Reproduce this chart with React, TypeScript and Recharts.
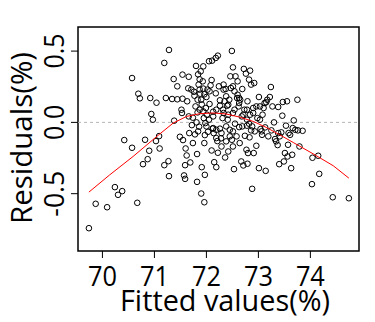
import React from 'react';
import {
  ScatterChart,
  Scatter,
  XAxis,
  YAxis,
  ReferenceLine,
  ReferenceArea,
} from 'recharts';

// fitted values (x) and residuals (y)
const fitted = [
  69.74, 69.87, 70.09, 70.24, 70.30, 70.38, 70.42, 70.57, 70.57, 70.67, 70.69, 70.72, 70.78, 70.82, 70.87,
  70.90, 70.92, 70.94, 70.97, 71.04, 71.03, 71.09, 71.10, 71.19, 71.19, 71.22, 71.27, 71.28, 71.28, 71.34,
  71.38, 71.37, 71.44, 71.44, 71.49, 71.52, 71.53, 71.54, 71.54, 71.55, 71.57, 71.59, 71.59, 71.60, 71.62,
  71.63, 71.65, 71.66, 71.66, 71.67, 71.69, 71.71, 71.72, 71.74, 71.74, 71.76, 71.78, 71.79, 71.80, 71.81,
  71.82, 71.82, 71.83, 71.83, 71.84, 71.85, 71.86, 71.87, 71.88, 71.89, 71.90, 71.90, 71.91, 71.91, 71.93,
  71.94, 71.94, 71.95, 71.96, 71.96, 71.97, 71.97, 71.98, 71.99, 72.00, 72.01, 72.02, 72.03, 72.05, 72.06,
  72.08, 72.10, 72.10, 72.11, 72.12, 72.13, 72.14, 72.15, 72.18, 72.18, 72.19, 72.21, 72.22, 72.22, 72.24,
  72.26, 72.26, 72.28, 72.29, 72.31, 72.32, 72.33, 72.35, 72.36, 72.37, 72.38, 72.38, 72.40, 72.41, 72.42,
  72.44, 72.45, 72.46, 72.47, 72.49, 72.49, 72.51, 72.51, 72.51, 72.53, 72.54, 72.55, 72.56, 72.58, 72.60,
  72.60, 72.62, 72.63, 72.64, 72.65, 72.67, 72.68, 72.69, 72.71, 72.72, 72.73, 72.74, 72.76, 72.77, 72.78,
  72.79, 72.79, 72.80, 72.82, 72.83, 72.84, 72.84, 72.86, 72.88, 72.88, 72.90, 72.91, 72.92, 72.93, 72.96,
  72.98, 73.01, 73.01, 73.03, 73.04, 73.07, 73.08, 73.10, 73.12, 73.13, 73.14, 73.17, 73.19, 73.22, 73.24,
  73.25, 73.27, 73.30, 73.32, 73.34, 73.37, 73.38, 73.40, 73.41, 73.44, 73.46, 73.47, 73.49, 73.51, 73.53,
  73.55, 73.56, 73.57, 73.58, 73.61, 73.63, 73.65, 73.66, 73.68, 73.71, 73.75, 73.76, 73.79, 73.85, 74.03,
  74.04, 74.15, 74.17, 74.43, 74.74,
  72.33, 72.38, 72.42, 72.54, 72.59, 72.63, 72.71, 72.78, 72.82, 72.86, 72.96, 73.06, 73.15, 72.05, 72.13,
  72.19, 72.26, 72.33, 72.42, 71.87, 71.94, 72.00, 71.84, 72.13, 72.19, 71.77, 71.87, 71.96, 72.06, 72.63,
  72.51, 72.78, 72.90, 72.19, 72.29, 72.45, 72.51, 72.69, 73.03, 73.38,
];

const residuals = [
  -0.742, -0.571, -0.595, -0.454, -0.508, -0.482, -0.124, 0.311, -0.178, -0.564, 0.201, 0.169, -0.293, -0.122, -0.258,
  -0.199, 0.171, 0.059, 0.019, 0.138, -0.131, -0.096, -0.183, 0.417, -0.300, 0.171, -0.272, 0.508, -0.377, 0.164,
  0.012, 0.304, 0.253, 0.162, -0.101, 0.089, 0.066, 0.166, 0.335, -0.124, -0.372, -0.300, -0.396, -0.183, -0.232,
  0.148, 0.239, 0.320, 0.042, -0.075, -0.281, 0.230, -0.019, -0.145, 0.033, 0.215, -0.084, 0.112, 0.396, 0.000,
  -0.222, -0.417, 0.159, 0.070, 0.337, 0.265, -0.030, 0.302, 0.201, 0.358, -0.499, 0.159, 0.126, -0.314, 0.288,
  0.393, 0.237, 0.030, -0.560, -0.145, -0.089, -0.368, -0.005, 0.101, 0.178, 0.054, 0.230, -0.066, 0.429, 0.129,
  0.260, 0.297, -0.197, 0.433, -0.044, 0.075, -0.075, -0.279, 0.204, 0.452, -0.314, -0.131, 0.468, -0.213, 0.253,
  0.155, -0.044, -0.112, -0.169, 0.030, 0.089, 0.265, 0.148, -0.246, 0.234, -0.028, -0.133, 0.117, 0.019, -0.204,
  0.159, -0.052, 0.323, 0.241, 0.501, -0.122, -0.169, 0.386, 0.066, -0.328, 0.218, -0.009, 0.323, -0.098, 0.194,
  0.288, 0.112, -0.033, -0.145, 0.159, -0.274, 0.042, 0.234, -0.302, 0.375, 0.089, -0.094, 0.342, -0.192, -0.023,
  -0.290, 0.148, -0.215, 0.300, -0.105, 0.363, 0.054, 0.265, -0.466, -0.028, 0.101, -0.215, 0.276, -0.063, -0.164,
  0.030, 0.178, -0.321, 0.112, -0.047, -0.087, 0.054, 0.101, 0.136, -0.035, -0.340, 0.159, -0.098, 0.178, 0.248,
  -0.056, 0.112, 0.000, -0.117, -0.133, -0.159, 0.108, -0.293, -0.098, -0.070, 0.047, 0.143, -0.274, -0.215, -0.023,
  0.148, -0.239, -0.157, -0.075, -0.087, -0.321, -0.227, -0.040, 0.014, -0.052, 0.159, -0.056, -0.169, -0.059, -0.433,
  -0.248, -0.234, -0.361, -0.525, -0.532,
  0.230, 0.183, 0.124, 0.089, 0.171, 0.136, 0.054, 0.019, -0.009, -0.056, 0.112, -0.063, 0.141, 0.019, 0.042,
  0.089, 0.117, 0.066, 0.054, 0.089, 0.077, -0.028, -0.063, -0.040, -0.052, 0.187, 0.230, 0.197, 0.218, 0.171,
  0.253, 0.089, 0.066, -0.110, -0.075, -0.098, -0.063, -0.028, 0.019, -0.075,
];

// smoothed trend line
const smoothX = [69.74, 70.14, 70.59, 71.07, 71.36, 71.62, 71.87, 72.13, 72.38, 72.64, 72.90, 73.15, 73.41, 73.67, 74.05, 74.44, 74.74];
const smoothY = [-0.489, -0.368, -0.239, -0.091, -0.005, 0.042, 0.061, 0.066, 0.059, 0.037, 0.007, -0.035, -0.087, -0.141, -0.220, -0.304, -0.391];

const xTicks = [70, 71, 72, 73, 74];
const yTicks = [-0.5, 0, 0.5];

const X_DOMAIN: [number, number] = [69.53, 74.935];
const Y_DOMAIN: [number, number] = [-0.902, 0.669];

const FONT = "'Open Sans', 'Noto Sans', sans-serif";

const points = fitted.map((x, i) => ({ x, y: residuals[i] }));
const smooth = smoothX.map((x, i) => ({ x, y: smoothY[i] }));

const OpenCircle = (props: any) => (
  <circle cx={props.cx} cy={props.cy} r={2.8} fill="none" stroke="#000" strokeWidth={1} />
);

const YTick = (props: any) => {
  const { y, payload } = props;
  const bx = 64;
  const label = payload.value.toFixed(1);
  return (
    <text
      x={bx}
      y={y}
      transform={`rotate(-90, ${bx}, ${y})`}
      textAnchor="middle"
      fontSize={28}
      fontFamily={FONT}
      fill="#000"
      textLength={label.startsWith('-') ? 46 : 35}
      lengthAdjust="spacingAndGlyphs"
    >
      {label}
    </text>
  );
};

const XTick = (props: any) => {
  const { x, payload } = props;
  return (
    <text
      x={x}
      y={286}
      textAnchor="middle"
      fontSize={28}
      fontFamily={FONT}
      fill="#000"
      textLength={29}
      lengthAdjust="spacingAndGlyphs"
    >
      {payload.value}
    </text>
  );
};

export default function App() {
  return (
    <div style={{ position: 'absolute', left: 0, top: 0, width: 375, height: 322, background: '#fff' }}>
      <ScatterChart width={375} height={322} margin={{ top: 27, right: 16, bottom: 0, left: 0 }}>
        <XAxis
          type="number"
          dataKey="x"
          domain={X_DOMAIN}
          ticks={xTicks}
          allowDataOverflow
          axisLine={false}
          tickSize={7}
          tickLine={{ stroke: '#000' }}
          tick={<XTick />}
          height={71}
        />
        <YAxis
          type="number"
          dataKey="y"
          domain={Y_DOMAIN}
          ticks={yTicks}
          allowDataOverflow
          axisLine={false}
          tickSize={7}
          tickLine={{ stroke: '#000' }}
          tick={<YTick />}
          width={78}
        />
        <ReferenceLine y={0} stroke="#b4b4b4" strokeDasharray="3 3" />
        <ReferenceArea
          x1={X_DOMAIN[0]}
          x2={X_DOMAIN[1]}
          y1={Y_DOMAIN[0]}
          y2={Y_DOMAIN[1]}
          fill="none"
          stroke="#000"
          strokeWidth={1.5}
          fillOpacity={0}
        />
        <Scatter data={points} shape={<OpenCircle />} isAnimationActive={false} />
        <Scatter
          data={smooth}
          line={{ stroke: '#ff0000', strokeWidth: 1 }}
          lineType="joint"
          shape={() => <g />}
          isAnimationActive={false}
        />
        <text
          x={120}
          y={311}
          textAnchor="start"
          fontSize={30}
          fontFamily={FONT}
          fill="#000"
          textLength={210}
          lengthAdjust="spacingAndGlyphs"
        >
          Fitted values(%)
        </text>
        <text
          x={32}
          y={224}
          transform="rotate(-90, 32, 224)"
          textAnchor="start"
          fontSize={29}
          fontFamily={FONT}
          fill="#000"
          textLength={172}
          lengthAdjust="spacingAndGlyphs"
        >
          Residuals(%)
        </text>
      </ScatterChart>
    </div>
  );
}
